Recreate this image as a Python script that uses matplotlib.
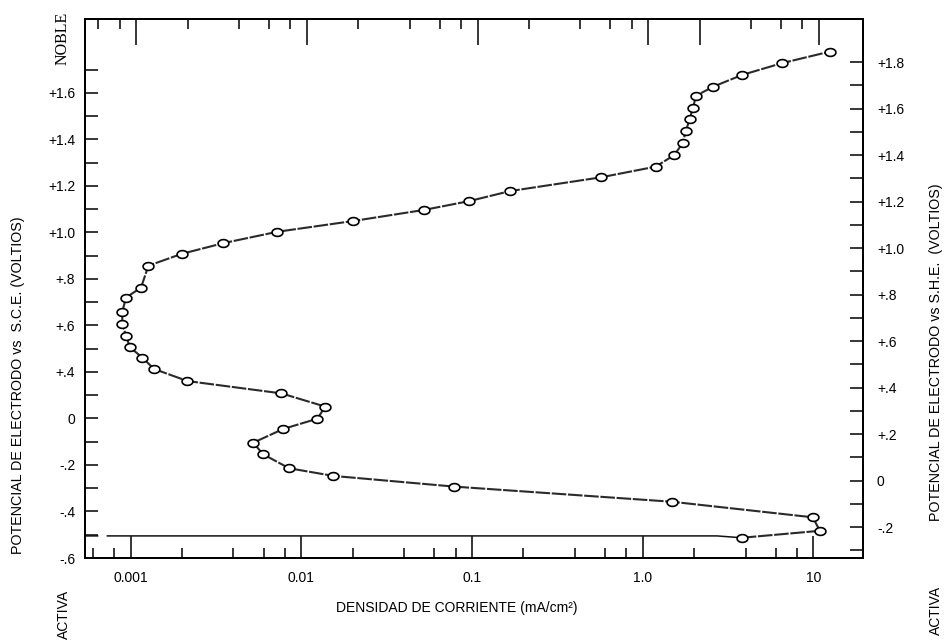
import numpy as np
import matplotlib.pyplot as plt
from matplotlib.path import Path

plt.rcParams['font.family'] = ['Liberation Sans', 'DejaVu Sans']

# densidad de corriente (mA/cm2) y potencial (V vs S.C.E.)
corriente = [3.80, 10.9, 9.9, 1.48, 0.0787, 0.0154, 0.00847, 0.00594, 0.00523, 0.00783,
             0.0124, 0.0138, 0.00763, 0.00215, 0.00137, 0.00117, 0.00099, 0.000939, 0.000893, 0.000893,
             0.000939, 0.00115, 0.00127, 0.00199, 0.00349, 0.00723, 0.0200, 0.0524, 0.0964, 0.167,
             0.568, 1.19, 1.53, 1.71, 1.79, 1.88, 1.97, 2.05, 2.59, 3.80, 6.53, 12.5]
potencial = [-0.513, -0.483, -0.425, -0.358, -0.293, -0.247, -0.214, -0.153, -0.104, -0.045,
             -0.001, 0.051, 0.108, 0.161, 0.213, 0.262, 0.306, 0.356, 0.408, 0.459,
             0.520, 0.563, 0.657, 0.708, 0.754, 0.803, 0.849, 0.897, 0.935, 0.978,
             1.037, 1.083, 1.133, 1.184, 1.237, 1.287, 1.337, 1.388, 1.427, 1.477, 1.528, 1.578]

# tramo horizontal del final de la curva (con el corte cerca del eje)
cola_x = [0.00054, 0.00064, np.nan, 0.00073, 2.72, 3.80]
cola_y = [-0.505, -0.505, np.nan, -0.505, -0.505, -0.513]

x_ticks = [0.001, 0.01, 0.1, 1.0, 10]
x_labels = ['0.001', '0.01', '0.1', '1.0', '10']

y_izq = [-0.6, -0.4, -0.2, 0.0, 0.2, 0.4, 0.6, 0.8, 1.0, 1.2, 1.4]
y_izq_labels = ['-.6', '-.4', '-.2', '0', '+.4', '+.6', '+.8', '+1.0', '+1.2', '+1.4', '+1.6']
y_der = [-0.2, 0.0, 0.2, 0.4, 0.6, 0.8, 1.0, 1.2, 1.4, 1.6, 1.8]
y_der_labels = ['-.2', '0', '+.2', '+.4', '+.6', '+.8', '+1.0', '+1.2', '+1.4', '+1.6', '+1.8']
desfase_she = 0.267

xmin, xmax = 0.00054, 19.5
ymin, ymax = -0.6, 1.718

fig = plt.figure(figsize=(9.46, 6.4), dpi=100)
ax = fig.add_axes([85/946, 1-558/640, (863-85)/946, (558-19)/640])

t = np.linspace(0, 2*np.pi, 48)
elipse = Path(np.column_stack([np.cos(t), 0.72*np.sin(t)]))

ax.plot(cola_x, cola_y, color='#111111', lw=1.1, zorder=2)
ax.plot(corriente, potencial, color='#2a2a2a', lw=1.5, dashes=(7, 0.8),
        marker=elipse, ms=7.8, mfc='white', mec='black', mew=1.2, zorder=3)

ax.set_xscale('log')
ax.set_xlim(xmin, xmax)
ax.set_ylim(ymin, ymax)

menores = [d*m for d in [1e-4, 1e-3, 1e-2, 1e-1, 1, 10] for m in [2, 4, 6, 8]]
menores = [v for v in menores if xmin < v < xmax]
ax.set_xticks(x_ticks, x_labels)
ax.set_xticks(menores, minor=True)
ax.xaxis.set_minor_formatter(plt.NullFormatter())
ax.tick_params(axis='x', which='major', direction='in', length=16, width=1.1, pad=9, labelsize=10)
ax.tick_params(axis='x', which='minor', direction='in', length=7.2, width=1.1)

ax.set_yticks(y_izq, y_izq_labels)
ax.set_yticks([round(-0.5 + 0.2*i, 2) for i in range(11)], minor=True)
ax.tick_params(axis='y', which='both', direction='in', length=9.4, width=1.1, pad=7, labelsize=10)

for s in ax.spines.values():
    s.set_linewidth(1.4)

# escala superior algo desplazada, como en el original
k = 10 ** (5.5 / 170.65)
ax_sup = ax.twiny()
ax_sup.set_xscale('log')
ax_sup.set_xlim(xmin / k, xmax / k)
ax_sup.set_xticks([0.001, 0.01, 0.1, 1.0, 2.0, 10])
ax_sup.set_xticks([v for v in menores if v not in (2.0,)], minor=True)
ax_sup.tick_params(axis='x', which='major', direction='in', length=18.7, width=1.1, labeltop=False)
ax_sup.tick_params(axis='x', which='minor', direction='in', length=7.2, width=1.1, labeltop=False)
ax_sup.xaxis.set_minor_formatter(plt.NullFormatter())

ax_der = ax.twinx()
ax_der.set_ylim(ymin + desfase_she, ymax + desfase_she)
ax_der.set_yticks(y_der, y_der_labels)
ax_der.set_yticks([round(-0.3 + 0.2*i, 2) for i in range(11)], minor=True)
ax_der.tick_params(axis='y', which='both', direction='in', length=9.4, width=1.1, pad=10, labelsize=10)
for a in (ax_sup, ax_der):
    for s in a.spines.values():
        s.set_linewidth(1.4)

fig.text(457/946, 1-608/640, 'DENSIDAD DE CORRIENTE (mA/cm²)', ha='center', va='center', fontsize=10)
fig.text(18/946, 1-385/640, 'POTENCIAL DE ELECTRODO vs  S.C.E. (VOLTIOS)',
         rotation=90, ha='center', va='center', fontsize=10.3)
fig.text(936/946, 1-352/640, 'POTENCIAL DE ELECTRODO vs S.H.E.  (VOLTIOS)',
         rotation=90, ha='center', va='center', fontsize=10.3)
fig.text(63/946, 1-38/640, 'NOBLE', rotation=90, ha='center', va='center',
         fontsize=11.5, family='Liberation Serif')
fig.text(64/946, 1-614/640, 'ACTIVA', rotation=90, ha='center', va='center', fontsize=10)
fig.text(936/946, 1-610/640, 'ACTIVA', rotation=90, ha='center', va='center', fontsize=10)

fig.savefig('out.png', dpi=100)
